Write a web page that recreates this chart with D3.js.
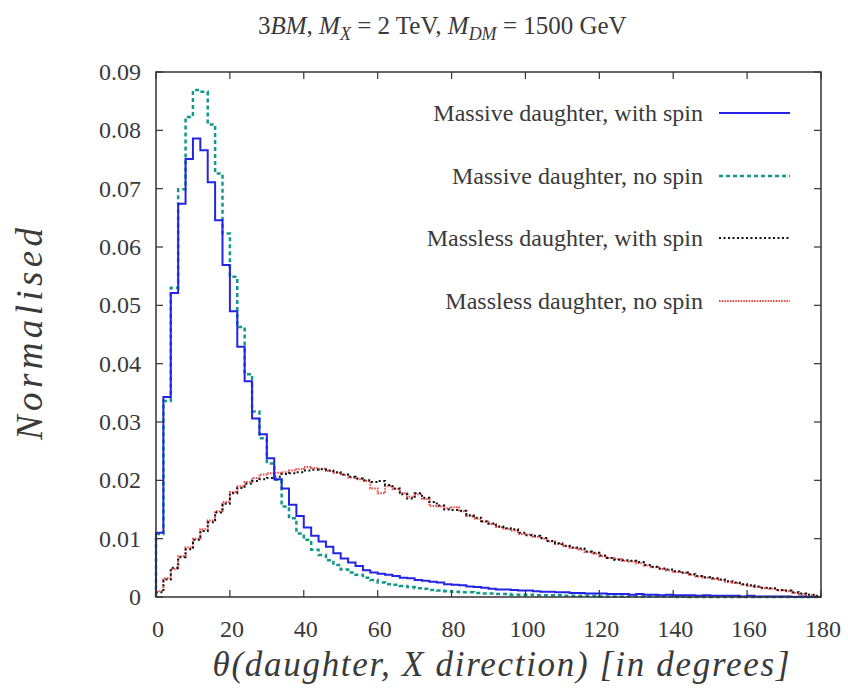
<!DOCTYPE html>
<meta charset="utf-8">
<head>
  <title>Daughter angle distribution</title>
  <script src="https://d3js.org/d3.v7.min.js"></script>
  <style>
    body { margin: 0; background: #fff; }
    svg text { font-family: 'Liberation Serif', serif; fill: #3a3a3a; }
  </style>
</head>
<body>
<div id="chart"></div>
<script>

// 2-degree bins, 0..180
var binWidth = 2;

var massiveSpin = [
  0.0110, 0.0343, 0.0521, 0.0674, 0.0751, 0.0786, 0.0766, 0.0711, 0.0646, 0.0569,
  0.0490, 0.0429, 0.0370, 0.0306, 0.0279, 0.0238, 0.0202, 0.0186, 0.0158, 0.0139,
  0.0119, 0.0105, 0.0095, 0.0086, 0.0075, 0.0066, 0.0059, 0.0053, 0.0046, 0.0042,
  0.0040, 0.0038, 0.0036, 0.0033, 0.0032, 0.0029, 0.0028, 0.0026, 0.0025, 0.0022,
  0.0021, 0.0020, 0.0018, 0.0017, 0.0016, 0.0014, 0.0013, 0.0013, 0.0012, 0.0011,
  0.0011, 0.0010, 0.0009, 0.0009, 0.0008, 0.0008, 0.0007, 0.0007, 0.0006, 0.0006,
  0.0006, 0.0005, 0.0005, 0.0005, 0.0004, 0.0005, 0.0004, 0.0004, 0.0003, 0.0004,
  0.0003, 0.0003, 0.0003, 0.0002, 0.0003, 0.0002, 0.0002, 0.0002, 0.0002, 0.0001,
  0.0002, 0.0001, 0.0001, 0.0001, 0.0001, 0.0001, 0.0000, 0.0001, 0.0000, 0.0000
];

var massiveNoSpin = [
  0.0108, 0.0336, 0.0530, 0.0699, 0.0823, 0.0869, 0.0866, 0.0810, 0.0726, 0.0623,
  0.0549, 0.0463, 0.0382, 0.0318, 0.0272, 0.0229, 0.0201, 0.0155, 0.0135, 0.0109,
  0.0098, 0.0081, 0.0072, 0.0063, 0.0055, 0.0047, 0.0042, 0.0038, 0.0033, 0.0029,
  0.0025, 0.0022, 0.0021, 0.0019, 0.0017, 0.0015, 0.0014, 0.0012, 0.0011, 0.0010,
  0.0009, 0.0008, 0.0008, 0.0007, 0.0006, 0.0006, 0.0005, 0.0005, 0.0004, 0.0004,
  0.0004, 0.0003, 0.0003, 0.0003, 0.0003, 0.0002, 0.0002, 0.0002, 0.0002, 0.0002,
  0.0001, 0.0001, 0.0001, 0.0001, 0.0001, 0.0001, 0.0001, 0.0001, 0.0001, 0.0001,
  0.0000, 0.0001, 0.0000, 0.0000, 0.0000, 0.0000, 0.0000, 0.0000, 0.0000, 0.0000,
  0.0000, 0.0000, 0.0000, 0.0000, 0.0000, 0.0000, 0.0000, 0.0000, 0.0000, 0.0000
];

var masslessSpin = [
  0.0008, 0.0030, 0.0050, 0.0068, 0.0082, 0.0098, 0.0113, 0.0128, 0.0145, 0.0160,
  0.0178, 0.0187, 0.0194, 0.0199, 0.0202, 0.0204, 0.0206, 0.0211, 0.0212, 0.0214,
  0.0217, 0.0218, 0.0219, 0.0217, 0.0214, 0.0210, 0.0206, 0.0203, 0.0200, 0.0197,
  0.0199, 0.0192, 0.0186, 0.0176, 0.0169, 0.0178, 0.0170, 0.0163, 0.0157, 0.0150,
  0.0149, 0.0148, 0.0140, 0.0136, 0.0130, 0.0126, 0.0121, 0.0118, 0.0116, 0.0110,
  0.0106, 0.0105, 0.0101, 0.0096, 0.0092, 0.0088, 0.0085, 0.0083, 0.0078, 0.0076,
  0.0071, 0.0067, 0.0064, 0.0063, 0.0062, 0.0060, 0.0055, 0.0052, 0.0049, 0.0047,
  0.0044, 0.0042, 0.0039, 0.0036, 0.0034, 0.0032, 0.0030, 0.0027, 0.0025, 0.0022,
  0.0020, 0.0018, 0.0016, 0.0015, 0.0012, 0.0011, 0.0008, 0.0006, 0.0004, 0.0002
];

var masslessNoSpin = [
  0.0010, 0.0032, 0.0048, 0.0070, 0.0085, 0.0100, 0.0116, 0.0131, 0.0147, 0.0163,
  0.0180, 0.0190, 0.0197, 0.0204, 0.0210, 0.0212, 0.0213, 0.0214, 0.0217, 0.0219,
  0.0223, 0.0221, 0.0220, 0.0216, 0.0213, 0.0209, 0.0205, 0.0202, 0.0199, 0.0186,
  0.0178, 0.0190, 0.0185, 0.0178, 0.0172, 0.0176, 0.0168, 0.0156, 0.0155, 0.0152,
  0.0154, 0.0147, 0.0139, 0.0134, 0.0129, 0.0125, 0.0120, 0.0117, 0.0114, 0.0108,
  0.0107, 0.0103, 0.0100, 0.0095, 0.0091, 0.0087, 0.0084, 0.0081, 0.0077, 0.0074,
  0.0070, 0.0067, 0.0065, 0.0062, 0.0061, 0.0058, 0.0054, 0.0051, 0.0048, 0.0046,
  0.0043, 0.0041, 0.0038, 0.0035, 0.0033, 0.0031, 0.0029, 0.0026, 0.0024, 0.0021,
  0.0019, 0.0017, 0.0015, 0.0014, 0.0011, 0.0010, 0.0007, 0.0005, 0.0003, 0.0001
];

var seriesNames = [
  "Massive daughter, with spin",
  "Massive daughter, no spin",
  "Massless daughter, with spin",
  "Massless daughter, no spin"
];

var xTicks = [0, 20, 40, 60, 80, 100, 120, 140, 160, 180];
var yTicks = [0, 0.01, 0.02, 0.03, 0.04, 0.05, 0.06, 0.07, 0.08, 0.09];

var styles = [
  {color: "#2424e4", width: 2, dash: null},
  {color: "#13998a", width: 2.5, dash: "4,3"},
  {color: "#111111", width: 2, dash: "2,2.5"},
  {color: "#f04848", width: 2, dash: "1.5,1.2"}
];

var W = 848, H = 698;
var margin = {top: 72, right: 27, bottom: 101, left: 156};
var width = W - margin.left - margin.right,
    height = H - margin.top - margin.bottom;

var svg = d3.select("#chart").append("svg")
  .attr("width", W).attr("height", H)
  .style("font-family", "'Liberation Serif', serif");

var g = svg.append("g")
  .attr("transform", "translate(" + margin.left + "," + margin.top + ")");

var x = d3.scaleLinear().domain([0, 180]).range([0, width]);
var y = d3.scaleLinear().domain([0, 0.09]).range([height, 0]);

// histogram step lines
var stepLine = d3.line()
  .x(function(d) { return x(d[0]); })
  .y(function(d) { return y(d[1]); })
  .curve(d3.curveStepAfter);

function steps(vals) {
  var pts = [[0, 0]];
  vals.forEach(function(v, i) { pts.push([i * binWidth, v]); });
  pts.push([vals.length * binWidth, vals[vals.length - 1]]);
  return pts;
}

var allSeries = [massiveSpin, massiveNoSpin, masslessSpin, masslessNoSpin];
var drawOrder = [3, 2, 1, 0];
drawOrder.forEach(function(k) {
  g.append("path")
    .datum(steps(allSeries[k]))
    .attr("fill", "none")
    .attr("stroke", styles[k].color)
    .attr("stroke-width", styles[k].width)
    .attr("stroke-dasharray", styles[k].dash)
    .attr("d", stepLine);
});

// frame and inward ticks on all sides
var axisColor = "#333";
var tl = 7;
g.append("rect")
  .attr("width", width).attr("height", height)
  .attr("fill", "none").attr("stroke", axisColor).attr("stroke-width", 1.5);

xTicks.forEach(function(t) {
  g.append("line").attr("x1", x(t)).attr("x2", x(t)).attr("y1", height).attr("y2", height - tl)
    .attr("stroke", axisColor).attr("stroke-width", 1.2);
  g.append("line").attr("x1", x(t)).attr("x2", x(t)).attr("y1", 0).attr("y2", tl)
    .attr("stroke", axisColor).attr("stroke-width", 1.2);
  g.append("text")
    .attr("x", x(t) + 2).attr("y", height + 40)
    .attr("text-anchor", "middle")
    .style("font-size", "24px")
    .text(t);
});

yTicks.forEach(function(t) {
  g.append("line").attr("x1", 0).attr("x2", tl).attr("y1", y(t)).attr("y2", y(t))
    .attr("stroke", axisColor).attr("stroke-width", 1.2);
  g.append("line").attr("x1", width).attr("x2", width - tl).attr("y1", y(t)).attr("y2", y(t))
    .attr("stroke", axisColor).attr("stroke-width", 1.2);
  g.append("text")
    .attr("x", -15).attr("y", y(t))
    .attr("text-anchor", "end")
    .attr("dominant-baseline", "central")
    .style("font-size", "24px")
    .text(t === 0 ? "0" : d3.format(".2f")(t));
});

// legend
var legendY = [113, 176, 238, 301];
seriesNames.forEach(function(name, k) {
  var ly = legendY[k] - margin.top;
  g.append("text")
    .attr("x", 703 - margin.left).attr("y", ly)
    .attr("text-anchor", "end")
    .attr("dominant-baseline", "central")
    .style("font-size", "24px")
    .text(name);
  g.append("line")
    .attr("x1", 719 - margin.left).attr("x2", 790 - margin.left)
    .attr("y1", ly).attr("y2", ly)
    .attr("stroke", styles[k].color)
    .attr("stroke-width", styles[k].width)
    .attr("stroke-dasharray", styles[k].dash);
});

// title
var title = svg.append("text")
  .attr("x", 258).attr("y", 34)
  .style("font-size", "25px");
title.append("tspan").text("3");
title.append("tspan").style("font-style", "italic").text("BM");
title.append("tspan").text(", ");
title.append("tspan").style("font-style", "italic").text("M");
title.append("tspan").style("font-style", "italic").style("font-size", "18px").attr("dy", 6).text("X");
title.append("tspan").attr("dy", -6).text(" = 2 TeV, ");
title.append("tspan").style("font-style", "italic").text("M");
title.append("tspan").style("font-style", "italic").style("font-size", "18px").attr("dy", 6).text("DM");
title.append("tspan").attr("dy", -6).text(" = 1500 GeV");

// axis labels
svg.append("text")
  .attr("transform", "translate(42,334) rotate(-90)")
  .attr("text-anchor", "middle")
  .style("font-size", "37px")
  .style("font-style", "italic")
  .attr("textLength", 212)
  .text("Normalised");

svg.append("text")
  .attr("x", 501).attr("y", 676)
  .attr("text-anchor", "middle")
  .style("font-size", "35px")
  .style("font-style", "italic")
  .attr("textLength", 577)
  .text("\u03b8(daughter, X direction) [in degrees]");

</script>
</body>
</html>
